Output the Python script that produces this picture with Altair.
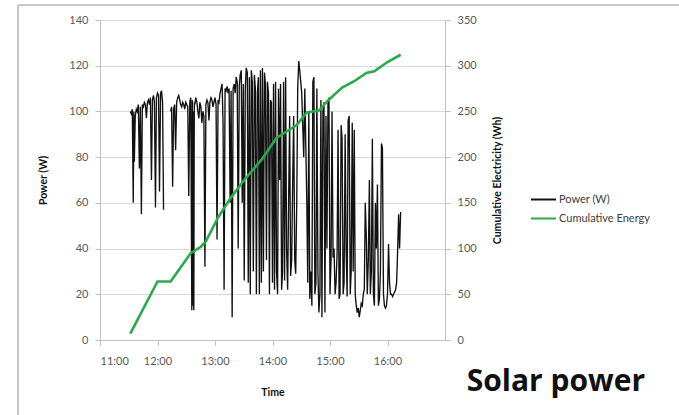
import altair as alt
import pandas as pd

# ---- data (minutes after 11:00) ----
power_minutes = [
    31.6, 32.6, 33.7, 34.7, 35.3, 35.8, 36.8, 37.9, 38.9, 40.0, 41.1, 42.1, 43.2, 44.2, 45.3, 46.3,
    47.4, 48.4, 49.5, 50.5, 51.6, 52.6, 53.7, 54.7, 55.8, 56.8, 57.9, 58.9, 60.0, 61.1, 62.1, 63.2,
    64.2, 65.3, 66.3,
    73.7, 74.7, 75.8, 76.8, 77.9, 78.9, 80.0, 81.1, 82.1, 83.2, 84.2, 85.3, 86.3, 87.4, 88.4, 89.5,
    90.5, 91.6, 92.6, 93.7, 94.7, 95.8, 96.3, 96.8, 97.4, 97.9, 98.4,
    98.9, 100.0, 101.1, 102.1, 103.2, 104.2, 105.3, 106.3, 107.4, 108.4, 109.5, 110.5, 111.6, 112.6,
    113.7, 114.7, 115.8, 116.8, 117.9, 118.9, 120.0, 121.1, 122.1, 123.2, 124.2, 125.3, 126.3, 127.4,
    128.4, 129.5, 130.5, 131.6, 132.6, 133.7, 134.7, 135.8, 136.8, 137.9, 138.9, 140.0, 141.1, 142.1,
    143.2, 144.2, 145.3, 146.3, 147.4, 148.4, 149.5, 150.5, 151.6, 152.6, 153.7, 154.7, 155.8, 156.8,
    157.9, 158.9, 160.0, 161.1, 162.1, 163.2, 164.2, 165.3, 166.3, 167.4, 168.4, 169.5, 170.5, 171.6,
    172.6, 173.7, 174.7, 175.8, 176.8, 177.9, 178.9, 180.0, 181.1, 182.1, 183.2, 184.2, 185.3, 186.3,
    187.4, 188.4, 189.5, 190.5, 191.6, 192.6, 193.7, 194.7, 195.8, 196.8, 197.9, 198.9, 200.0, 201.1,
    202.1, 203.2, 204.2, 205.3, 206.3, 207.4, 208.4, 210.5, 212.6, 213.7, 215.8, 216.8, 217.9, 218.9,
    220.0, 221.1, 222.1, 223.2, 224.2, 225.3, 226.3, 227.4, 228.4, 229.5, 230.5, 231.6, 232.6, 233.7,
    234.7, 235.8, 236.8, 237.9, 238.9, 240.0, 241.1, 242.1, 243.2, 244.2, 245.3, 246.3, 247.4, 248.4,
    249.5, 250.5, 251.6, 252.6, 253.7, 254.7, 255.8, 256.8, 257.9, 258.9, 260.0, 261.1, 262.1, 263.2,
    264.2, 265.3, 266.3, 267.4, 268.4, 269.5, 270.5, 271.6, 272.6, 273.7, 274.7, 275.8, 276.8, 277.9,
    278.9, 280.0, 281.1, 282.1, 283.2, 284.2, 285.3, 286.3, 287.4, 288.4, 289.5, 290.5, 291.6, 292.6,
    293.7, 294.7, 295.8, 296.8, 297.9, 298.9, 300.0, 301.1, 302.1, 303.2, 304.2, 305.3, 306.3, 307.4,
    308.4, 309.5, 310.5, 311.6, 312.6, 313.7,
]
power_watts = [
    100, 99, 101, 60, 100, 78, 98, 101, 100, 103, 75, 102, 55, 103, 102, 104,
    103, 97, 104, 105, 103, 106, 70, 105, 107, 104, 58, 106, 108, 107, 65, 108,
    109, 104, 57,
    100, 102, 67, 101, 103, 83, 104, 106, 107, 105, 103, 102, 104, 103, 101, 104,
    103, 102, 63, 104, 106, 13, 105, 15, 100, 13, 104,
    103, 106, 104, 100, 97, 104, 102, 95, 100, 98, 32, 103, 105, 104,
    96, 104, 106, 105, 102, 104, 106, 103, 44, 105, 104, 108, 110, 112,
    95, 22, 110, 109, 111, 108, 110, 60, 109, 10, 110, 112, 108, 115,
    113, 40, 111, 116, 118, 60, 112, 26, 110, 119, 117, 25, 115, 20,
    118, 113, 30, 116, 110, 20, 108, 115, 20, 118, 25, 119, 30, 117,
    112, 35, 113, 108, 20, 105, 104, 25, 112, 22, 113, 30, 20, 110,
    70, 112, 22, 30, 113, 26, 115, 40, 22, 60, 98, 28, 35, 70,
    98, 35, 29, 60, 110, 122, 118, 108, 80, 110, 60, 25, 100, 18,
    30, 15, 113, 115, 20, 25, 110, 30, 12, 20, 105, 10, 100, 104,
    12, 98, 40, 104, 106, 20, 35, 100, 36, 40, 20, 25, 38, 92,
    18, 20, 94, 88, 20, 25, 90, 40, 19, 96, 98, 20, 30, 95,
    30, 92, 20, 15, 12, 14, 10, 13, 16, 15, 20, 22, 60, 45,
    20, 35, 70, 20, 30, 88, 20, 15, 60, 40, 68, 15, 18, 30,
    86, 84, 20, 15, 14, 15, 20, 42, 25, 20, 20, 19, 20, 21,
    22, 25, 38, 55, 40, 56,
]
energy_minutes = [31.6, 60.0, 73.7, 94.7, 105.3, 110.5, 123.2, 136.8, 150.5, 168.4, 184.2,
                  205.3, 215.8, 228.4, 237.9, 252.6, 265.3, 277.9, 286.3, 300.0, 313.7]
energy_wh = [7, 64, 64, 95, 102, 108, 134, 156, 175, 197, 221,
             235, 249, 251, 262, 276, 283, 292, 294, 304, 312]

x_tick_minutes = [0, 60, 120, 180, 240, 300]
x_tick_labels = ["11:00", "12:00", "13:00", "14:00", "15:00", "16:00"]
power_ticks = [0, 20, 40, 60, 80, 100, 120, 140]
energy_ticks = [0, 50, 100, 150, 200, 250, 300, 350]
series_names = ["Power (W)", "Cumulative Energy"]
series_colors = ["#111111", "#2aaa4a"]

power_df = pd.DataFrame({"minute": power_minutes, "value": power_watts})
power_df["series"] = series_names[0]
power_df["segment"] = [1 if m < 70 else 2 for m in power_minutes]
energy_df = pd.DataFrame({"minute": energy_minutes, "value": energy_wh})
energy_df["series"] = series_names[1]

FONT = "Lato"
label_expr = "[" + ",".join("'" + s + "'" for s in x_tick_labels) + "][indexof([" + \
    ",".join(str(v) for v in x_tick_minutes) + "], datum.value)]"

x_enc = alt.X(
    "minute:Q",
    scale=alt.Scale(domain=[0, 360], nice=False, zero=False),
    axis=alt.Axis(values=x_tick_minutes, labelExpr=label_expr, title="Time", grid=False,
                  tickSize=5, labelPadding=10, titlePadding=21),
)

color_enc = alt.Color(
    "series:N",
    scale=alt.Scale(domain=series_names, range=series_colors),
    legend=alt.Legend(title=None, orient="none", legendX=430, legendY=166,
                      symbolType="stroke", symbolSize=625, symbolStrokeWidth=2,
                      labelFont=FONT, labelFontSize=11, labelColor="#404040",
                      rowPadding=0, labelOffset=2, padding=0),
)

power_line = alt.Chart(power_df).mark_line(strokeWidth=1.35).encode(
    x=x_enc,
    y=alt.Y("value:Q", scale=alt.Scale(domain=[0, 140], nice=False),
            axis=alt.Axis(orient="left", values=power_ticks, title="Power (W)", grid=True,
                          tickSize=5, labelPadding=7, titlePadding=20)),
    color=color_enc,
    detail="segment:N",
)

energy_line = alt.Chart(energy_df).mark_line(strokeWidth=2.6).encode(
    x=x_enc,
    y=alt.Y("value:Q", scale=alt.Scale(domain=[0, 350], nice=False),
            axis=alt.Axis(orient="right", values=energy_ticks,
                          title="Cumulative Electricity (Wh)", grid=False,
                          tickSize=5, labelPadding=7, titlePadding=26, titleAngle=270)),
    color=color_enc,
)

frame = alt.Chart(alt.Data(values=[{}])).mark_rule(color="#c8c8c8", strokeWidth=2).encode(
    x=alt.value(-82), y=alt.value(-15), y2=alt.value(400)
)
frame_top = alt.Chart(alt.Data(values=[{}])).mark_rule(color="#c8c8c8", strokeWidth=2).encode(
    x=alt.value(-82), x2=alt.value(600), y=alt.value(-15)
)

chart = alt.layer(frame, frame_top, power_line, energy_line).resolve_scale(
    y="independent"
).properties(
    width=345,
    height=320,
    padding={"left": 100, "top": 20, "right": 234, "bottom": 75},
    autosize=alt.AutoSizeParams(type="none"),
    title=alt.TitleParams("Solar power", orient="bottom", anchor="end", frame="group",
                          font="Open Sans", fontSize=30, fontWeight="bold", color="#111111",
                          dx=200, offset=-54),
).configure_view(stroke=None).configure_axis(
    domainColor="#bfbfbf", tickColor="#bfbfbf", gridColor="#d9d9d9",
    labelFont=FONT, labelFontSize=11, labelColor="#595959",
    titleFont=FONT, titleFontSize=10.5, titleFontWeight="bold", titleColor="#111111",
)

chart.save("out.html", embed_options={"renderer": "svg", "actions": False})
